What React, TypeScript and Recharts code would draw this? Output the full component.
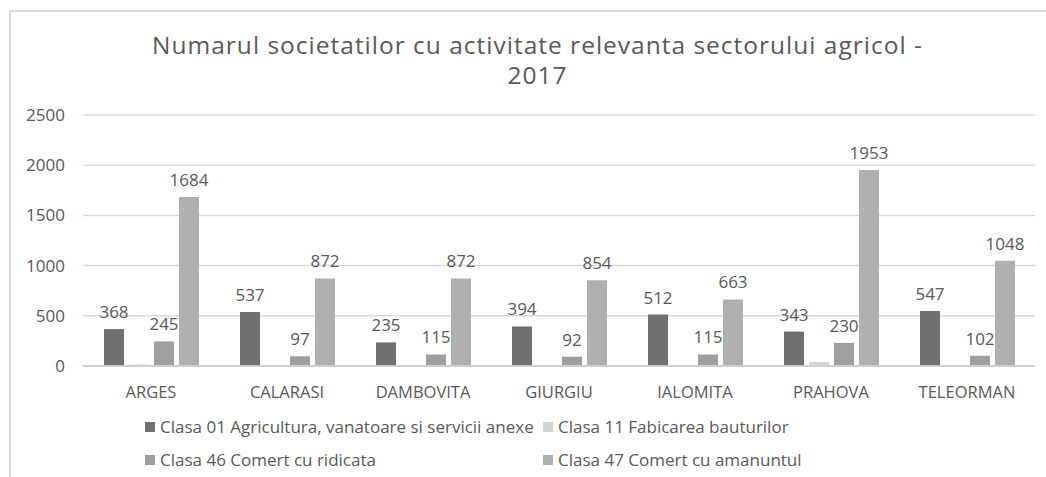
import React from "react";
import { BarChart, Bar, XAxis, YAxis, CartesianGrid, LabelList } from "recharts";

const categories = ["ARGES", "CALARASI", "DAMBOVITA", "GIURGIU", "IALOMITA", "PRAHOVA", "TELEORMAN"];
const clasa01 = [368, 537, 235, 394, 512, 343, 547];
const clasa11 = [15, 0, 0, 0, 0, 40, 0];
const clasa46 = [245, 97, 115, 92, 115, 230, 102];
const clasa47 = [1684, 872, 872, 854, 663, 1953, 1048];
const yTicks = [0, 500, 1000, 1500, 2000, 2500];

const seriesNames = [
  "Clasa 01 Agricultura, vanatoare si servicii anexe",
  "Clasa 11 Fabicarea bauturilor",
  "Clasa 46 Comert cu ridicata",
  "Clasa 47 Comert cu amanuntul",
];
const seriesKeys = ["c01", "c11", "c46", "c47"];
const colors = ["#707070", "#d4d4d4", "#9e9e9e", "#b0b0b0"];
const showLabels = [true, false, true, true];

const data = categories.map((name, i) => ({
  name,
  c01: clasa01[i],
  c11: clasa11[i],
  c46: clasa46[i],
  c47: clasa47[i],
}));

const FONT = "'Open Sans', sans-serif";
const TEXT = "#595959";

export default function App() {
  return (
    <div style={{ position: "absolute", left: 0, top: 0, width: 1046, height: 477, background: "#fff", fontFamily: FONT, overflow: "hidden" }}>
      <div
        style={{
          position: "absolute",
          left: 9,
          top: 10,
          width: 1037,
          height: 467,
          borderTop: "2px solid #d9d9d9",
          borderLeft: "2px solid #d9d9d9",
        }}
      />
      <div
        style={{
          position: "absolute",
          left: 0,
          width: 1075,
          top: 30,
          textAlign: "center",
          fontSize: 24.5,
          letterSpacing: 1,
          lineHeight: "30px",
          color: TEXT,
        }}
      >
        Numarul societatilor cu activitate relevanta sectorului agricol -
        <br />
        2017
      </div>
      <div style={{ position: "absolute", left: 0, top: 0 }}>
        <BarChart
          width={1046}
          height={477}
          data={data}
          margin={{ top: 115, right: 11, bottom: 81, left: 0 }}
          barSize={20}
          barGap={5}
        >
          <CartesianGrid vertical={false} stroke="#d9d9d9" strokeWidth={1.5} />
          <XAxis
            dataKey="name"
            axisLine={{ stroke: "#d0d0d0", strokeWidth: 2 }}
            tickLine={false}
            tick={{ fill: TEXT, fontSize: 16.5, fontFamily: FONT }}
            tickMargin={14}
            height={30}
          />
          <YAxis
            domain={[0, 2500]}
            ticks={yTicks}
            axisLine={false}
            tickLine={false}
            width={83}
            tickMargin={12}
            tick={{ fill: TEXT, fontSize: 17, fontFamily: FONT }}
            interval={0}
          />
          {seriesKeys.map((k, i) => (
            <Bar key={k} dataKey={k} fill={colors[i]} isAnimationActive={false}>
              {showLabels[i] && (
                <LabelList dataKey={k} position="top" offset={11} fill={TEXT} fontSize={17} fontFamily={FONT} />
              )}
            </Bar>
          ))}
        </BarChart>
      </div>
      {seriesNames.map((n, i) => (
        <div
          key={n}
          style={{
            position: "absolute",
            left: i % 2 === 0 ? 145 : 543,
            top: i < 2 ? 415 : 448,
            fontSize: 17,
            lineHeight: "24px",
            color: TEXT,
            whiteSpace: "nowrap",
            display: "flex",
            alignItems: "center",
          }}
        >
          <span style={{ display: "inline-block", width: 10, height: 10, background: colors[i], marginRight: 5 }} />
          {n}
        </div>
      ))}
    </div>
  );
}
